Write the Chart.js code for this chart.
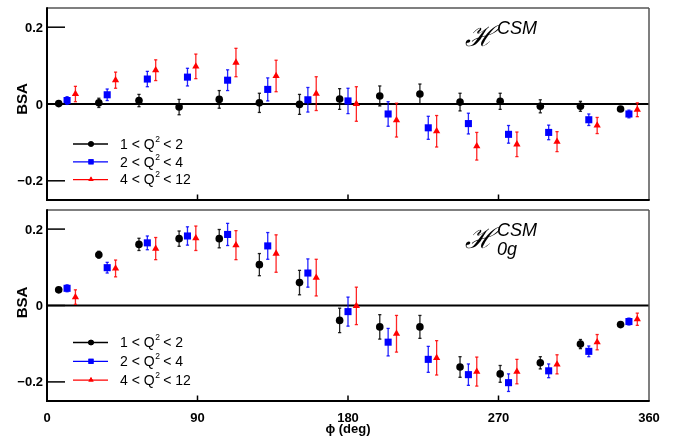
<!DOCTYPE html>
<html lang="en">
<head>
<meta charset="UTF-8">
<title>BSA vs phi</title>
<style>
  body { margin: 0; background: #fff; }
  .wrap { position: relative; width: 686px; height: 440px; }
  .wrap canvas { position: absolute; left: 0; }
  #top-chart { top: 0; }
  #bottom-chart { top: 205px; }
</style>
</head>
<body>
<div class="wrap">
  <canvas id="top-chart" width="686" height="205"></canvas>
  <canvas id="bottom-chart" width="686" height="235"></canvas>
</div>
<script src="https://cdn.jsdelivr.net/npm/chart.js"></script>
<script>
// phi bin centres in degrees
const phiBins = [12, 36, 60, 84, 108, 132, 156, 180, 204, 228, 252, 276, 300, 324, 348];
const xTicks = [0, 90, 180, 270, 360];
const yTicks = [-0.2, 0, 0.2];

// legend labels: [before superscript, superscript, after]
const q2Labels = [
  ['1 < Q', '2', ' < 2'],
  ['2 < Q', '2', ' < 4'],
  ['4 < Q', '2', ' < 12']
];

// H^CSM panel
const topLow      = [0.001, 0.003, 0.009, -0.008, 0.012, 0.003, -0.001, 0.013, 0.021, 0.026, 0.005, 0.007, -0.006, -0.006, -0.013];
const topLowErr   = [0.005, 0.012, 0.016, 0.020, 0.023, 0.025, 0.026, 0.027, 0.026, 0.026, 0.023, 0.021, 0.017, 0.013, 0.004];
const topMid      = [0.009, 0.024, 0.065, 0.070, 0.062, 0.038, 0.011, 0.008, -0.026, -0.062, -0.051, -0.079, -0.074, -0.041, -0.026];
const topMidErr   = [0.010, 0.015, 0.020, 0.023, 0.027, 0.030, 0.032, 0.033, 0.032, 0.030, 0.027, 0.023, 0.019, 0.015, 0.010];
const topHigh     = [0.026, 0.062, 0.088, 0.098, 0.108, 0.073, 0.027, 0.000, -0.042, -0.071, -0.110, -0.105, -0.098, -0.056, -0.015];
const topHighErr  = [0.020, 0.021, 0.027, 0.032, 0.037, 0.041, 0.044, 0.045, 0.044, 0.041, 0.036, 0.032, 0.026, 0.021, 0.018];

// H_0g^CSM panel
const botLow      = [0.041, 0.133, 0.160, 0.175, 0.175, 0.107, 0.060, -0.039, -0.056, -0.056, -0.161, -0.179, -0.150, -0.101, -0.050];
const botLowErr   = [0.003, 0.009, 0.016, 0.020, 0.024, 0.029, 0.032, 0.032, 0.032, 0.030, 0.027, 0.022, 0.016, 0.012, 0.003];
const botMid      = [0.045, 0.099, 0.164, 0.182, 0.186, 0.156, 0.085, -0.016, -0.096, -0.141, -0.181, -0.202, -0.171, -0.120, -0.042];
const botMidErr   = [0.009, 0.014, 0.018, 0.024, 0.029, 0.035, 0.037, 0.038, 0.036, 0.034, 0.028, 0.023, 0.018, 0.014, 0.009];
const botHigh     = [0.022, 0.097, 0.149, 0.176, 0.158, 0.136, 0.073, -0.001, -0.074, -0.137, -0.173, -0.173, -0.154, -0.096, -0.036];
const botHighErr  = [0.019, 0.022, 0.029, 0.032, 0.038, 0.049, 0.048, 0.049, 0.048, 0.045, 0.038, 0.032, 0.025, 0.020, 0.016];

// series look; each Q2 bin is nudged sideways so the bars don't overlap
const seriesStyle = [
  { color: '#000000', style: 'circle',   radius: 3.8, legendRadius: 2.8, shift: -5 },
  { color: '#0000ff', style: 'rect',     radius: 5,   legendRadius: 3.6, shift: 0 },
  { color: '#ff0000', style: 'triangle', radius: 4.2, legendRadius: 3,   shift: 5 }
];

const sans = '"Liberation Sans", Arial, sans-serif';
const labelFont = { family: sans, size: 13, weight: 'bold' };

function buildSets(vals, errs) {
  return seriesStyle.map((s, k) => ({
    data: phiBins.map((p, i) => ({ x: p + s.shift, y: vals[k][i], err: errs[k][i] })),
    borderColor: s.color,
    backgroundColor: s.color,
    pointStyle: s.style,
    pointRadius: s.radius,
    pointBorderWidth: 0,
    showLine: false
  }));
}

function line(ctx, x1, y1, x2, y2) {
  ctx.beginPath(); ctx.moveTo(x1, y1); ctx.lineTo(x2, y2); ctx.stroke();
}

function fmtTick(v) {
  return v === 0 ? '0' : (v < 0 ? '\u2212' + (-v).toFixed(1) : v.toFixed(1));
}

// zero line, error bars, frame, inner ticks, y labels, legend and the panel label
const panelDecor = {
  id: 'panelDecor',
  beforeDatasetsDraw(chart) {
    const { ctx, chartArea: a, scales: { x, y } } = chart;
    ctx.save();
    ctx.strokeStyle = '#000';
    ctx.lineWidth = 2;
    const y0 = y.getPixelForValue(0);
    line(ctx, a.left, y0, a.right, y0);

    chart.data.datasets.forEach(ds => {
      ctx.strokeStyle = ds.borderColor;
      ctx.globalAlpha = 0.85;
      ctx.lineWidth = 1.3;
      ds.data.forEach(p => {
        const px = x.getPixelForValue(p.x);
        const lo = y.getPixelForValue(p.y - p.err);
        const hi = y.getPixelForValue(p.y + p.err);
        line(ctx, px, lo, px, hi);
        line(ctx, px - 1.6, lo, px + 1.6, lo);
        line(ctx, px - 1.6, hi, px + 1.6, hi);
      });
    });
    ctx.restore();
  },
  afterDatasetsDraw(chart, args, opts) {
    const { ctx, chartArea: a, scales: { x, y } } = chart;
    ctx.save();

    // frame: heavy left/bottom axes, light top/right edges
    ctx.strokeStyle = '#555';
    ctx.lineWidth = 1.5;
    line(ctx, a.left, a.top, a.right, a.top);
    line(ctx, a.right, a.top, a.right, a.bottom);
    ctx.strokeStyle = '#000';
    ctx.lineWidth = 2;
    line(ctx, a.left, a.top - 0.7, a.left, a.bottom + 1);
    line(ctx, a.left - 1, a.bottom, a.right + 0.7, a.bottom);

    // inward tick marks and y labels
    ctx.lineWidth = 1.5;
    ctx.fillStyle = '#000';
    ctx.font = 'bold 13px ' + sans;
    ctx.textAlign = 'right';
    ctx.textBaseline = 'middle';
    yTicks.forEach(v => {
      const py = y.getPixelForValue(v);
      line(ctx, a.left, py, a.left + 18, py);
      ctx.fillText(fmtTick(v), a.left - 4, py + 1);
    });
    xTicks.slice(1, -1).forEach(v => {
      const px = x.getPixelForValue(v);
      line(ctx, px, a.bottom, px, a.bottom - 5.5);
    });

    // rotated axis title
    ctx.save();
    ctx.translate(22.5, (a.top + a.bottom) / 2 - opts.titleLift);
    ctx.rotate(-Math.PI / 2);
    ctx.textAlign = 'center';
    ctx.textBaseline = 'middle';
    ctx.font = 'bold 15px ' + sans;
    ctx.fillText('BSA', 0, 0);
    ctx.restore();

    // legend
    chart.data.datasets.forEach((ds, k) => {
      const s = seriesStyle[k];
      const ry = a.top + opts.legendTop + k * opts.legendStep;
      ctx.strokeStyle = s.color;
      ctx.lineWidth = 1.3;
      line(ctx, a.left + 26, ry, a.left + 61, ry);
      ctx.fillStyle = s.color;
      Chart.helpers.drawPoint(ctx, { pointStyle: s.style, radius: s.legendRadius, rotation: 0, borderWidth: 0 }, a.left + 44, ry);
      ctx.fill();

      const [pre, sup, post] = q2Labels[k];
      let tx = a.left + 73;
      ctx.fillStyle = '#000';
      ctx.textBaseline = 'middle';
      ctx.textAlign = 'left';
      ctx.font = '14px ' + sans;
      ctx.fillText(pre, tx, ry + 1);
      tx += ctx.measureText(pre).width + 0.5;
      ctx.font = '8.5px ' + sans;
      ctx.fillText(sup, tx, ry - 4.5);
      tx += ctx.measureText(sup).width - 0.5;
      ctx.font = '14px ' + sans;
      ctx.fillText(post, tx, ry + 1);
    });

    // panel label: script H with CSM superscript (and optional subscript)
    ctx.fillStyle = '#000';
    ctx.textAlign = 'left';
    ctx.textBaseline = 'alphabetic';
    ctx.font = 'italic 28px "DejaVu Serif", serif';
    ctx.fillText('ℋ', 465, a.top + 38);
    ctx.font = 'italic 18px ' + sans;
    ctx.fillText('CSM', 497, a.top + 26);
    if (opts.sub) {
      ctx.fillText(opts.sub, 497, a.top + 45);
    }
    ctx.restore();
  }
};

function makeChart(id, sets, cfg) {
  return new Chart(document.getElementById(id), {
    type: 'scatter',
    data: { datasets: sets },
    options: {
      responsive: false,
      animation: false,
      events: [],
      layout: { padding: cfg.padding },
      plugins: {
        legend: { display: false },
        tooltip: { enabled: false },
        panelDecor: { legendTop: cfg.legendTop, legendStep: cfg.legendStep, sub: cfg.sub, titleLift: cfg.titleLift }
      },
      scales: {
        x: {
          type: 'linear',
          min: 0,
          max: 360,
          display: cfg.showX,
          afterBuildTicks: s => { s.ticks = xTicks.map(v => ({ value: v })); },
          afterFit: s => { s.height = cfg.xHeight; },
          grid: { display: false },
          border: { display: false },
          ticks: { color: '#000', font: labelFont, padding: 2, maxRotation: 0 },
          title: {
            display: cfg.showX,
            text: 'ϕ (deg)',
            color: '#000',
            font: labelFont,
            padding: { top: 0, bottom: 3 }
          }
        },
        y: {
          type: 'linear',
          min: -0.25,
          max: 0.25,
          display: false
        }
      }
    },
    plugins: [panelDecor]
  });
}

makeChart('top-chart',
  buildSets([topLow, topMid, topHigh], [topLowErr, topMidErr, topHighErr]),
  { padding: { left: 47, right: 37, top: 8, bottom: 3 }, showX: false, xHeight: 0,
    legendTop: 136, legendStep: 17.8, sub: '', titleLift: 5 });

makeChart('bottom-chart',
  buildSets([botLow, botMid, botHigh], [botLowErr, botMidErr, botHighErr]),
  { padding: { left: 47, right: 37, top: 2, bottom: 0 }, showX: true, xHeight: 39,
    legendTop: 132.5, legendStep: 18.8, sub: '0g', titleLift: 3 });
</script>
</body>
</html>
